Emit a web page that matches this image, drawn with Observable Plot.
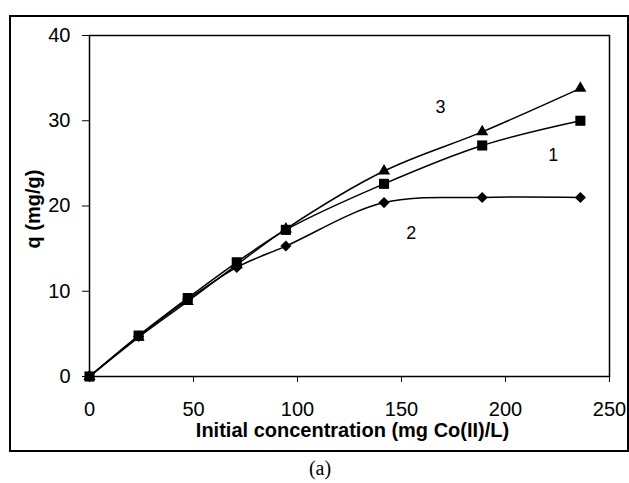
<!DOCTYPE html>
<html>
<head>
<meta charset="utf-8">
<script src="https://cdn.jsdelivr.net/npm/d3@7"></script>
<script src="https://cdn.jsdelivr.net/npm/@observablehq/plot@0.6"></script>
<style>
  html, body { margin: 0; padding: 0; background: #fff; }
  #wrap { position: relative; width: 629px; height: 483px; overflow: hidden; }
  #box { position: absolute; left: 9px; top: 15px; width: 620px; height: 437px; border: 2px solid #000; box-sizing: border-box; pointer-events: none; }
  #caption { position: absolute; left: 0; top: 457px; width: 640px; text-align: center; font: 20px "Liberation Serif", "Times New Roman", serif; line-height: 22px; color: #000; }
  svg { position: absolute; left: 0; top: 0; }
</style>
</head>
<body>
<div id="wrap">
  <div id="chart"></div>
  <div id="box"></div>
  <div id="caption">(a)</div>
</div>
<script>
// Data
const concentration = [0, 23.6, 47.2, 70.8, 94.4, 141.6, 188.8, 236];
const q1 = [0, 4.8, 9.2, 13.4, 17.2, 22.6, 27.1, 30.0];   // squares
const q2 = [0, 4.7, 9.0, 12.8, 15.3, 20.4, 21.0, 21.0];   // diamonds
const q3 = [0, 4.6, 8.8, 13.1, 17.3, 24.1, 28.7, 33.8];   // triangles

const xTicks = [0, 50, 100, 150, 200, 250];
const yTicks = [0, 10, 20, 30, 40];

const curveLabels = ["1", "2", "3"];
const curveLabelX = [223, 154.7, 168.7];
const curveLabelY = [26.0, 16.8, 31.6];

const xTitle = "Initial concentration (mg Co(II)/L)";
const yTitle = "q (mg/g)";

const mk = (ys) => concentration.map((x, i) => ({x, y: ys[i]}));
const s1 = mk(q1), s2 = mk(q2), s3 = mk(q3);
const labels = curveLabels.map((t, i) => ({t, x: curveLabelX[i], y: curveLabelY[i]}));

const lineOpts = {x: "x", y: "y", stroke: "#000", strokeWidth: 1.5, curve: "catmull-rom"};

const chart = Plot.plot({
  width: 629,
  height: 455,
  marginLeft: 89,
  marginRight: 20,
  marginTop: 35,
  marginBottom: 79,
  style: {fontFamily: "'Liberation Sans', Arial, sans-serif", fontSize: "20px", color: "#000", background: "transparent"},
  x: {domain: [0, 250]},
  y: {domain: [0, 40]},
  marks: [
    Plot.frame({stroke: "#000", strokeWidth: 1.5}),
    Plot.axisX({ticks: xTicks, tickSize: 6, tickPadding: 19, label: null, fontSize: 20, stroke: "#000"}),
    Plot.axisY({ticks: yTicks, tickSize: 7, tickPadding: 12, label: null, fontSize: 20, stroke: "#000"}),
    Plot.line(s2, lineOpts),
    Plot.line(s3, lineOpts),
    Plot.line(s1, lineOpts),
    Plot.dot(s2, {x: "x", y: "y", symbol: "diamond2", r: 5, fill: "#000", stroke: "none"}),
    Plot.dot(s3, {x: "x", y: "y", symbol: "triangle", r: 4.5, fill: "#000", stroke: "none"}),
    Plot.dot(s1, {x: "x", y: "y", symbol: "square", r: 5.7, fill: "#000", stroke: "none"}),
    Plot.text(labels, {x: "x", y: "y", text: "t", fontSize: 18, fill: "#000"}),
    Plot.text([xTitle], {frameAnchor: "bottom", dy: 54, dx: 3, fontSize: 20, fontWeight: "bold", fill: "#000", lineAnchor: "middle"}),
    Plot.text([yTitle], {frameAnchor: "left", dx: -56, dy: 3, rotate: -90, fontSize: 20, fontWeight: "bold", fill: "#000", lineAnchor: "middle", textAnchor: "middle"})
  ]
});
document.getElementById("chart").appendChild(chart);
</script>
</body>
</html>
